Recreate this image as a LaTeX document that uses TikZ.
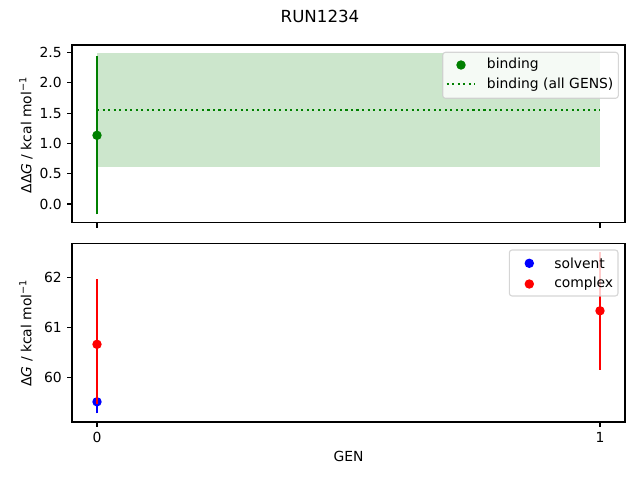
\documentclass[tikz,border=0pt]{standalone}
\usepackage{fontspec}
\setmainfont{DejaVu Sans}
\definecolor{mplgreen}{HTML}{008000}
\definecolor{mplblue}{HTML}{0000FF}
\definecolor{mplred}{HTML}{FF0000}
\definecolor{legedge}{gray}{0.8}
\begin{document}
\begin{tikzpicture}[x=0.72pt,y=-0.72pt,
  every node/.style={font=\fontsize{10}{12}\selectfont,inner sep=0pt},
  errbar/.style={line width=1.5pt},
  spine/.style={line width=0.8pt},
  legbox/.style={draw=legedge,fill=white,fill opacity=0.8,draw opacity=0.8,rounded corners=2pt,line width=0.8pt}]
\useasboundingbox (0,0) rectangle (640,480);
% top panel data
\begin{scope}[shift={(97,204)},x=362.16pt,y=43.58pt]
\fill[mplgreen,opacity=0.2] (0,0.616) rectangle (1,2.49);
\draw[mplgreen,line width=1.5pt,dash pattern=on 1.5pt off 2.475pt] (0,1.553) -- (1,1.553);
\draw[mplgreen,errbar] (0,-0.17) -- (0,2.45);
\fill[mplgreen] (0,1.135) circle (3.4pt);
\end{scope}
% bottom panel data
\begin{scope}[shift={(97,3377.3)},x=362.16pt,y=36pt]
\draw[mplblue,errbar] (0,59.28) -- (0,59.74);
\fill[mplblue] (0,59.51) circle (3.4pt);
\draw[mplred,errbar] (0,59.46) -- (0,61.97);
\fill[mplred] (0,60.66) circle (3.4pt);
\draw[mplred,errbar] (1,60.15) -- (1,62.5);
\fill[mplred] (1,61.33) circle (3.4pt);
\end{scope}
% frames and ticks
\draw[spine] (72,45) rectangle (625,222.7);
\draw[spine] (72,243.3) rectangle (625,422);
\foreach \v/\lab in {0/0.0,0.5/0.5,1/1.0,1.5/1.5,2/2.0,2.5/2.5}
  \draw[spine] (72,{204-60.53*\v}) -- ++(-3.5pt,0) node[left,xshift=-3.5pt] {\lab};
\foreach \v in {60,61,62}
  \draw[spine] (72,{377.3-50*(\v-60)}) -- ++(-3.5pt,0) node[left,xshift=-3.5pt] {\v};
\foreach \x/\lab in {97/0,600/1} {
  \draw[spine] (\x,222.7) -- ++(0,-3.5pt);
  \draw[spine] (\x,422) -- ++(0,-3.5pt) node[below,yshift=-3.5pt] {\lab};
}
% legends
\draw[legbox] (442.7,52.3) rectangle (618.3,98.3);
\fill[mplgreen] (461,65) circle (3.4pt);
\draw (486.7,65) node[right] {binding};
\draw[mplgreen,line width=1.5pt,dash pattern=on 1.5pt off 2.475pt] (446.7,84.3) -- (475,84.3);
\draw (486.7,84.3) node[right] {binding (all GENS)};
\draw[legbox] (509.3,250) rectangle (618,296);
\fill[mplblue] (529.3,263.3) circle (3.4pt);
\draw (554,263.3) node[right] {solvent};
\fill[mplred] (529.3,284) circle (3.4pt);
\draw (554,284) node[right] {complex};
% labels
\draw (26,135) node[rotate=90] {ΔΔ\textit{G} / kcal mol\textsuperscript{−1}};
\draw (26,333) node[rotate=90] {Δ\textit{G} / kcal mol\textsuperscript{−1}};
\draw (348.5,456.7) node {GEN};
\draw (320,16) node[font=\fontsize{12}{14}\selectfont] {RUN1234};
\end{tikzpicture}
\end{document}
